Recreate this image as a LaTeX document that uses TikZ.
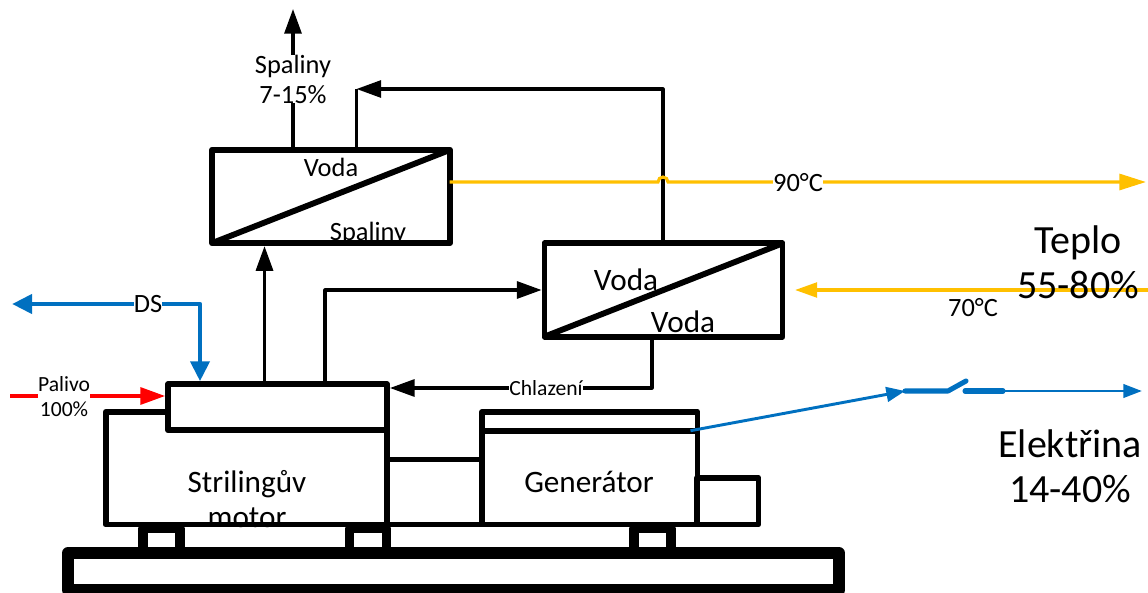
\documentclass[tikz,border=0pt]{standalone}
\usepackage{fontspec}
\setmainfont{Carlito}
\usetikzlibrary{positioning,arrows.meta,calc}
\definecolor{hotline}{HTML}{FFC000}
\definecolor{elline}{HTML}{0070C0}
\begin{document}
\begin{tikzpicture}[
  x=0.75pt, y=-0.75pt,
  frame/.style={draw, line width=4.4pt, line join=round, inner sep=0pt},
  hxbox/.style={frame, minimum width=178.5pt, minimum height=70pt},
  footbox/.style={draw, line width=6.8pt, line join=round, inner sep=0pt, minimum width=27.75pt, minimum height=18.4pt},
  arr/.style={line width=2.3pt, line join=round, -{Triangle[length=18.5pt,width=12.75pt]}},
  lineblk/.style={line width=2.3pt, line join=round},
  hot/.style={hotline, line width=2.3pt, -{Triangle[length=20pt,width=12pt]}},
  gap/.style={fill=white, inner sep=0pt, align=center},
  small/.style={font=\fontsize{16.2}{18.7}\selectfont, align=center, inner sep=0pt},
  mid/.style={font=\fontsize{19.8}{22.5}\selectfont, align=center, inner sep=0pt},
  big/.style={font=\fontsize{23.4}{26}\selectfont, align=center, inner sep=0pt},
  huge/.style={font=\fontsize{30}{34}\selectfont, align=center, inner sep=0pt},
]
\useasboundingbox (0,0) rectangle (1148,592);
\node[mid] (vodaa) at (331,167) {Voda};
\node[mid] (spala) at (368,233) {Spaliny};
\node[big] (vodab) at (626,280) {Voda};
\node[big] (vodac) at (683,322) {Voda};
\node[big] (motlbl) at (247,499) {Strilingův\\motor};
\node[big] (genlbl) at (589,482) {Generátor};
\node[hxbox] (hxa) at (331,196.5) {};
\node[hxbox] (hxb) at (663.5,290) {};
\draw[line width=4.4pt] (hxa.south west) ++(3,-3) -- ($(hxa.north east)+(-3,3)$);
\draw[line width=4.4pt] (hxb.south west) ++(3,-3) -- ($(hxb.north east)+(-3,3)$);
\node[frame, minimum width=211pt, minimum height=84.4pt] (mot) at (246.25,468.25) {};
\node[frame, fill=white, minimum width=164.25pt, minimum height=34.5pt] (eng) at (277.5,407.25) {};
\node[frame, minimum width=161.6pt, minimum height=84.4pt] (gen) at (589.75,468.25) {};
\node[frame, minimum width=71.25pt, minimum height=48.75pt] (shf) at (434.5,492) {};
\node[frame, minimum width=46.1pt, minimum height=34.9pt] (exc) at (727.75,501.25) {};
\coordinate (genl) at (590,431);
\draw[line width=4.4pt] (gen.west |- genl) -- (gen.east |- genl);
\node[footbox] (foota) at (161.5,540.75) {};
\node[footbox] (footb) at (368.25,540.75) {};
\node[footbox] (footc) at (652.5,540.75) {};
\node[draw, line width=9pt, line join=round, minimum width=578.25pt, minimum height=27.75pt] (base) at (453.5,571.5) {};
\coordinate (smoke) at (293,9);
\coordinate (flue) at (264.5,246);
\coordinate (lp) at (663,89);
\coordinate (lpin) at (356.5,89);
\coordinate (stk) at (325,290);
\coordinate (chl) at (652,388);
\draw[arr] (hxa.north -| smoke) -- (smoke);
\node[mid, gap] (spalb) at (293,79) {Spaliny\\7-15\%};
\draw[arr] (eng.north -| flue) -- (hxa.south -| flue);
\draw[arr] (hxb.north -| lp) -- (lp) -- (lpin);
\draw[lineblk] (hxa.north -| lpin) -- (lpin);
\draw[arr] (eng.north -| stk) -- (stk) -- (stk -| hxb.west);
\draw[arr] (hxb.south -| chl) -- (chl) -- (chl -| eng.east);
\node[small, gap] (chllbl) at (546,388) {Chlazení};
\coordinate (hota) at (1146,182);
\coordinate (hotb) at (1148,290);
\draw[hot, shorten <=-2.5pt] (hxa.east |- hota) -- (658,182) arc[start angle=180,end angle=360,radius=5] -- (hota);
\node[mid, gap] (hotalbl) at (798,183) {90°C};
\draw[hotline, line width=2.3pt, -{Triangle[length=16.5pt,width=11pt]}] (hotb) -- (hotb -| 795,0);
\node[mid] (hotblbl) at (973,308) {70°C};
\node[huge] (teplo) at (1078,262) {Teplo\\55-80\%};
\coordinate (dsc) at (200,304);
\coordinate (dsl) at (12,304);
\draw[elline, line width=3.6pt, line join=round, {Triangle[length=15pt,width=14pt]}-{Triangle[length=15pt,width=14pt]}] (dsl) -- (dsc) -- (eng.north -| dsc);
\node[mid, gap] (dslbl) at (148,304) {DS};
\coordinate (fuel) at (10,396);
\draw[red, line width=2.3pt, -{Triangle[length=18.5pt,width=12.75pt]}] (fuel) -- (fuel -| eng.west);
\node[small, gap] (fuellbl) at (64,397) {Palivo\\100\%};
\coordinate (elout) at (690.5,430.7);
\coordinate (swa) at (905,391);
\coordinate (swb) at (948,391);
\coordinate (swc) at (966,381);
\coordinate (swd) at (965,391);
\coordinate (swe) at (1003,391);
\coordinate (elend) at (1142,391);
\draw[elline, line width=2.2pt, -{Triangle[length=14pt,width=11pt]}] (elout) -- (swa);
\draw[elline, line width=3.8pt, line cap=round, line join=round] (swa) -- (swb) -- (swc);
\draw[elline, line width=3.8pt, line cap=round] (swd) -- (swe);
\draw[elline, line width=2.2pt, -{Triangle[length=14pt,width=10pt]}] (swe) -- (elend);
\node[huge] (elek) at (1070,466) {Elektřina\\14-40\%};
\end{tikzpicture}
\end{document}
